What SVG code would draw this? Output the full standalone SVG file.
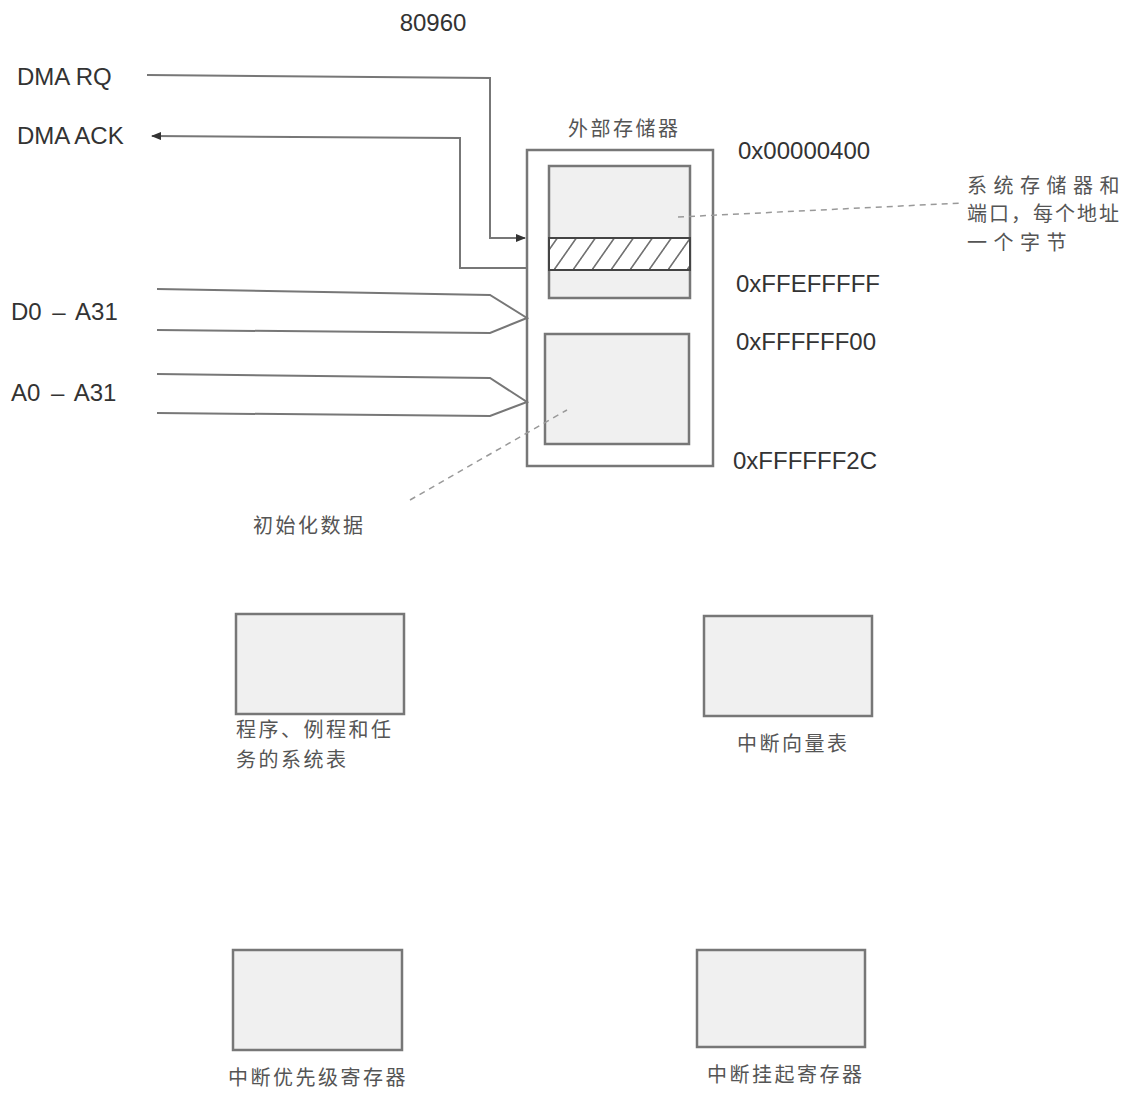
<svg xmlns="http://www.w3.org/2000/svg" width="1130" height="1093" viewBox="0 0 1130 1093">
<style>
.lbl{font-family:"Liberation Sans",Arial,sans-serif;font-size:24px;fill:#333}
.cn{font-family:"Noto Sans CJK SC",sans-serif;font-size:20px;letter-spacing:2.5px;fill:#555}
.ln{fill:none;stroke:#777;stroke-width:2}
.box{fill:#f0f0f0;stroke:#777;stroke-width:2.5}
.dash{fill:none;stroke:#999;stroke-width:1.5;stroke-dasharray:6 5}
</style>
<defs>
<pattern id="hatch" width="19" height="32" patternUnits="userSpaceOnUse" patternTransform="skewX(-35)">
<rect width="19" height="32" fill="#fff"/>
<line x1="2" y1="0" x2="2" y2="32" stroke="#444" stroke-width="1.5"/>
</pattern>
<marker id="ah" markerWidth="10" markerHeight="8" refX="9" refY="4" orient="auto" markerUnits="userSpaceOnUse">
<path d="M0,0 L10,4 L0,8 z" fill="#333"/>
</marker>
</defs>
<rect width="1130" height="1093" fill="#fff"/>
<text class="lbl" x="433" y="31" text-anchor="middle">80960</text>
<text class="lbl" x="17" y="85">DMA RQ</text>
<text class="lbl" x="17" y="144">DMA ACK</text>
<text class="lbl" x="11" y="320" word-spacing="4">D0 – A31</text>
<text class="lbl" x="11" y="401" word-spacing="4">A0 – A31</text>

<g id="external-memory">
<rect x="527" y="150" width="186" height="316" fill="#fff" stroke="#777" stroke-width="2.5"/>
<text class="cn" x="568" y="136">外部存储器</text>
</g>
<g id="system-memory">
<rect class="box" x="549" y="166" width="141" height="132"/>
<rect x="549" y="238" width="141" height="32" fill="url(#hatch)" stroke="#444" stroke-width="2"/>
</g>
<g id="init-data">
<rect class="box" x="545" y="334" width="144" height="110"/>
</g>
<text class="lbl" x="738" y="159">0x00000400</text>
<text class="lbl" x="736" y="292">0xFFEFFFFF</text>
<text class="lbl" x="736" y="350">0xFFFFFF00</text>
<text class="lbl" x="733" y="469">0xFFFFFF2C</text>
<g id="note-system">
<text class="cn" x="967" y="193" style="letter-spacing:6.5px">系统存储器和</text>
<text class="cn" x="967" y="221" style="letter-spacing:2px">端口，每个地址</text>
<text class="cn" x="967" y="250" style="letter-spacing:6.5px">一个字节</text>
</g>
<text class="cn" x="253" y="533">初始化数据</text>

<g id="system-tables">
<rect class="box" x="236" y="614" width="168" height="100"/>
<text class="cn" x="236" y="737">程序、例程和任</text>
<text class="cn" x="236" y="767">务的系统表</text>
</g>
<g id="interrupt-vector">
<rect class="box" x="704" y="616" width="168" height="100"/>
<text class="cn" x="737" y="751">中断向量表</text>
</g>
<g id="interrupt-priority">
<rect class="box" x="233" y="950" width="169" height="100"/>
<text class="cn" x="228" y="1085">中断优先级寄存器</text>
</g>
<g id="interrupt-pending">
<rect class="box" x="697" y="950" width="168" height="97"/>
<text class="cn" x="707" y="1082">中断挂起寄存器</text>
</g>

<g id="connectors">
<path class="ln" d="M147,75 L490,78 L490,238 L525,238" marker-end="url(#ah)"/>
<path class="ln" d="M527,268 L460,268 L460,138 L152,136" marker-end="url(#ah)"/>
<path class="ln" d="M157,289 L490,295 L527,318 L490,333 L157,330"/>
<path class="ln" d="M157,374 L490,378 L527,402 L490,416 L157,413"/>
<path class="dash" d="M678,217 L962,203"/>
<path class="dash" d="M410,500 L567,410"/>
</g>
</svg>
